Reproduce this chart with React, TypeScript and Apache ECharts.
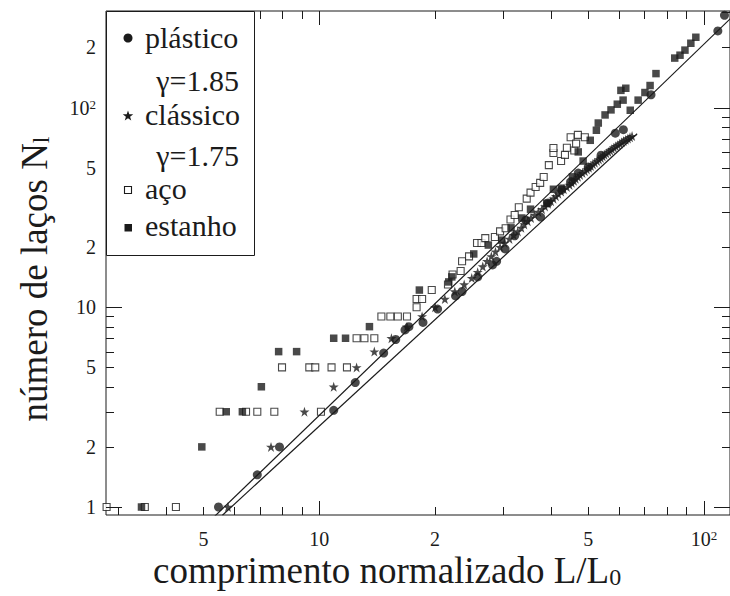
import React, { useEffect, useRef } from "react";
import * as echarts from "echarts";

// Axis ranges (log scales)
const X_MIN = 2.79;
const X_MAX = 116.8;
const Y_MIN = 0.912;
const Y_MAX = 304.6;

// Tick positions
const xTicks = [3, 4, 5, 6, 7, 8, 9, 10, 20, 30, 40, 50, 60, 70, 80, 90, 100];
const xMajorTicks = [10, 100];
const yTicks = [1, 2, 3, 4, 5, 6, 7, 8, 9, 10, 20, 30, 40, 50, 60, 70, 80, 90, 100, 200, 300];
const yMajorTicks = [1, 10, 100];

// Tick labels ("^" marks an exponent)
const xLabelValues = [5, 10, 20, 50, 100];
const xLabelTexts = ["5", "10", "2", "5", "10^2"];
const yLabelValues = [1, 2, 5, 10, 20, 50, 100, 200];
const yLabelTexts = ["1", "2", "5", "10", "2", "5", "10^2", "2"];

// Series: [L/L0, N_l]
const plastico = [
  [5.47, 1], [6.9, 1.45], [7.88, 2], [10.9, 3.05], [12.4, 4.2], [14.7, 5.9],
  [15.8, 6.9], [16.7, 7.7], [17.1, 8.0], [18.6, 8.4], [20.3, 9.8], [22.6, 11.4],
  [23.5, 12.0], [25.8, 14.2], [28.2, 16.3], [28.9, 17.0], [30.4, 19.6], [32.2, 22.8],
  [34.4, 27.3], [37.6, 28.3], [39.3, 33.3], [42.6, 38.7], [45.0, 42.5], [47.1, 47.0],
  [50.0, 50.4], [54.0, 57.8], [58.8, 74.5], [61.7, 77.5], [72.8, 116], [108.6, 242],
  [113, 290],
];

const classicoX = [
  5.79, 7.49, 9.15, 10.9, 12.5, 13.9, 15.4, 16.9, 18.5, 20.0,
  21.2, 22.5, 23.8, 24.9, 25.8, 26.6, 27.3, 28.0, 28.7, 29.5,
  30.3, 31.2, 32.0, 32.8, 33.5, 34.1, 34.8, 35.5, 36.3, 37.1,
  37.9, 38.6, 39.3, 40.0, 40.6, 41.2, 41.8, 42.5, 43.2, 44.0,
  44.7, 45.3, 45.9, 46.4, 47.0, 47.6, 48.3, 49.0, 49.6, 50.2,
  50.8, 51.4, 52.0, 52.7, 53.3, 53.9, 54.5, 55.1, 55.7, 56.4,
  57.0, 57.6, 58.3, 59.0, 59.7, 60.4, 61.1, 61.8, 62.6, 63.4,
  64.2, 65.0,
];
const classicoN = [
  1, 2, 3, 4, 5, 6, 7, 8, 9, 10,
  11, 12, 13, 14, 15, 16, 17, 18, 19, 20,
  21, 22, 23, 24, 25, 26, 27, 28, 29, 30,
  31, 32, 33, 34, 35, 36, 37, 38, 39, 40,
  41, 42, 43, 44, 45, 46, 47, 48, 49, 50,
  51, 52, 53, 54, 55, 56, 57, 58, 59, 60,
  61, 62, 63, 64, 65, 66, 67, 68, 69, 70,
  71, 72,
];

const aco = [
  [2.8, 1], [3.52, 1], [4.24, 1], [5.51, 3], [6.45, 3], [6.9, 3], [7.64, 3], [10.1, 3],
  [8.0, 5], [9.42, 5], [9.76, 5], [10.76, 5], [11.8, 5], [12.5, 7], [13.1, 7], [13.9, 7],
  [14.5, 9], [15.3, 9], [16.0, 9], [16.9, 9], [17.9, 10], [17.9, 11], [18.5, 11],
  [19.6, 12.2], [21.6, 13.0], [22.2, 14.6], [23.3, 15.2], [23.5, 17.0], [24.5, 18.0],
  [25.7, 21], [26.4, 21], [27.0, 22.2], [28.6, 22.5], [29.5, 24], [30.5, 24.9],
  [31.4, 27.5], [32.2, 29], [33.0, 31.7], [34.6, 35], [35.4, 37.5], [36.5, 40],
  [37.5, 42], [38.3, 44.9], [39.5, 51.5], [40.6, 59.2], [40.6, 62.8], [42.5, 54],
  [43.5, 58], [44.0, 63], [45.0, 71], [46.0, 61], [47.0, 73], [49.0, 71], [46.5, 66],
];

const estanho = [
  [3.45, 1], [4.95, 2], [5.73, 3], [6.31, 3], [7.07, 4], [7.84, 6], [8.73, 6],
  [10.9, 7], [11.7, 7], [13.5, 8], [18.2, 12.2], [21.7, 13.4], [22.1, 14.2],
  [25.2, 18.5], [27.5, 20.5], [29.8, 21.7], [31.5, 25], [33.6, 28], [35.4, 31],
  [39.0, 33.2], [40.6, 39], [42.6, 39.5], [45.5, 45], [47.1, 60], [48.5, 54],
  [50.6, 68.6], [52.5, 77], [53.1, 83.7], [55.3, 91.9], [57.3, 97.4], [59.5, 104],
  [60.8, 122], [62.6, 125], [61.6, 109], [64.3, 97], [67.4, 109], [70.2, 119],
  [72.4, 129], [75, 148], [83.9, 177], [86.6, 183], [89.2, 194], [92.4, 210],
  [95.2, 225],
];

// Power-law fits, end points
const fitPlastico = [[5.35, 0.9], [125, 315]]; // gamma = 1.85
const fitClassico = [[5.6, 0.91], [67, 74]]; // gamma = 1.75

const FONT = "Liberation Serif";
const INK = "#1b1b1b";
const STAR =
  "path://M50,0 L61.2,34.5 L97.6,34.5 L68.2,55.9 L79.4,90.5 L50,69.1 L20.6,90.5 L31.8,55.9 L2.4,34.5 L38.8,34.5 Z";

function richTick(t: string) {
  const parts = t.split("^");
  return parts.length > 1 ? `{b|${parts[0]}}{s|${parts[1]}}` : `{b|${t}}`;
}
const tickRich = {
  b: { fontFamily: FONT, fontSize: 20, lineHeight: 20, fill: INK },
  s: {
    fontFamily: FONT,
    fontSize: 13,
    lineHeight: 13,
    verticalAlign: "top",
    padding: [0, 0, 8, 0],
    fill: INK,
  },
};

function starPoints(cx: number, cy: number, r: number) {
  const pts: number[][] = [];
  for (let i = 0; i < 10; i++) {
    const rad = i % 2 === 0 ? r : r * 0.4;
    const a = -Math.PI / 2 + (i * Math.PI) / 5;
    pts.push([cx + rad * Math.cos(a), cy + rad * Math.sin(a)]);
  }
  return pts;
}

export default function App() {
  const ref = useRef<HTMLDivElement>(null);

  useEffect(() => {
    if (!ref.current) return;
    const chart = echarts.init(ref.current, null, { renderer: "svg" });

    const classico = classicoX.map((x, i) => [x, classicoN[i]]);

    const legendText = (text: string, x: number, y: number, align: string) => ({
      type: "text",
      z: 101,
      x,
      y,
      style: {
        text,
        fontFamily: FONT,
        fontSize: 30,
        fill: INK,
        align,
        verticalAlign: "middle",
      },
    });

    const titleRich = {
      m: { fontFamily: FONT, fontSize: 37, lineHeight: 37, fill: INK },
      sub: { fontFamily: FONT, fontSize: 24, lineHeight: 24, verticalAlign: "bottom", fill: INK },
    };

    const option = {
      animation: false,
      backgroundColor: "#ffffff",
      grid: {
        left: 106,
        top: 11,
        width: 626,
        height: 504,
        show: true,
        borderColor: INK,
        borderWidth: 1,
        backgroundColor: "transparent",
      },
      xAxis: {
        type: "log",
        logBase: 10,
        min: X_MIN,
        max: X_MAX,
        axisLine: { show: false },
        axisTick: { show: false },
        axisLabel: { show: false },
        splitLine: { show: false },
      },
      yAxis: {
        type: "log",
        logBase: 10,
        min: Y_MIN,
        max: Y_MAX,
        axisLine: { show: false },
        axisTick: { show: false },
        axisLabel: { show: false },
        splitLine: { show: false },
      },
      series: [
        {
          name: "aço",
          type: "scatter",
          data: aco,
          symbol: "rect",
          symbolSize: 7,
          itemStyle: { color: "#ffffff", borderColor: INK, borderWidth: 1.1 },
          z: 3,
        },
        {
          name: "estanho",
          type: "scatter",
          data: estanho,
          symbol: "rect",
          symbolSize: 7.5,
          itemStyle: { color: INK },
          z: 4,
        },
        {
          name: "clássico",
          type: "scatter",
          data: classico,
          symbol: STAR,
          symbolSize: 10,
          itemStyle: { color: INK },
          z: 5,
        },
        {
          name: "plástico",
          type: "scatter",
          data: plastico,
          symbol: "circle",
          symbolSize: 9,
          itemStyle: { color: INK },
          z: 6,
        },
        {
          name: "γ=1.85",
          type: "line",
          data: fitPlastico,
          showSymbol: false,
          lineStyle: { color: INK, width: 1.2 },
          z: 7,
        },
        {
          name: "γ=1.75",
          type: "line",
          data: fitClassico,
          showSymbol: false,
          lineStyle: { color: INK, width: 1.2 },
          z: 7,
        },
        // x ticks, bottom and top, pointing inwards
        {
          type: "custom",
          silent: true,
          clip: false,
          z: 8,
          data: xTicks.map((v) => [v, Y_MIN]),
          encode: { x: 0, y: 1 },
          renderItem: (_p: any, api: any) => {
            const v = api.value(0);
            const b = api.coord([v, Y_MIN]);
            const t = api.coord([v, Y_MAX]);
            const len = xMajorTicks.includes(v) ? 14 : 8;
            const x = Math.round(b[0]) + 0.5;
            return {
              type: "group",
              children: [
                { type: "line", shape: { x1: x, y1: b[1], x2: x, y2: b[1] - len }, style: { stroke: INK, lineWidth: 1 } },
                { type: "line", shape: { x1: x, y1: t[1], x2: x, y2: t[1] + len }, style: { stroke: INK, lineWidth: 1 } },
              ],
            };
          },
        },
        // y ticks, left and right, pointing inwards
        {
          type: "custom",
          silent: true,
          clip: false,
          z: 8,
          data: yTicks.filter((v) => v <= Y_MAX).map((v) => [X_MIN, v]),
          encode: { x: 0, y: 1 },
          renderItem: (_p: any, api: any) => {
            const v = api.value(1);
            const l = api.coord([X_MIN, v]);
            const r = api.coord([X_MAX, v]);
            const len = yMajorTicks.includes(v) ? 16 : 8;
            const y = Math.round(l[1]) + 0.5;
            return {
              type: "group",
              children: [
                { type: "line", shape: { x1: l[0], y1: y, x2: l[0] + len, y2: y }, style: { stroke: INK, lineWidth: 1 } },
                { type: "line", shape: { x1: r[0], y1: y, x2: r[0] - len, y2: y }, style: { stroke: INK, lineWidth: 1 } },
              ],
            };
          },
        },
        // x tick labels
        {
          type: "custom",
          silent: true,
          clip: false,
          z: 8,
          data: xLabelValues.map((v, i) => [v, Y_MIN, i]),
          encode: { x: 0, y: 1 },
          renderItem: (_p: any, api: any) => {
            const v = api.value(0);
            const i = api.value(2);
            const b = api.coord([v, Y_MIN]);
            return {
              type: "text",
              x: b[0],
              y: b[1] + 24,
              style: {
                text: richTick(xLabelTexts[i]),
                rich: tickRich,
                fontFamily: FONT,
                align: "center",
                verticalAlign: "middle",
              },
            };
          },
        },
        // y tick labels
        {
          type: "custom",
          silent: true,
          clip: false,
          z: 8,
          data: yLabelValues.map((v, i) => [X_MIN, v, i]),
          encode: { x: 0, y: 1 },
          renderItem: (_p: any, api: any) => {
            const v = api.value(1);
            const i = api.value(2);
            const l = api.coord([X_MIN, v]);
            return {
              type: "text",
              x: l[0] - 10,
              y: l[1],
              style: {
                text: richTick(yLabelTexts[i]),
                rich: tickRich,
                fontFamily: FONT,
                align: "right",
                verticalAlign: "middle",
              },
            };
          },
        },
      ],
      graphic: [
        // axis titles
        {
          type: "text",
          x: 153,
          y: 570,
          z: 50,
          style: {
            text: "{m|comprimento normalizado L/L}{sub|0}",
            fontFamily: FONT,
            align: "left",
            verticalAlign: "middle",
            rich: titleRich,
          },
        },
        {
          type: "text",
          x: 34,
          y: 279,
          rotation: Math.PI / 2,
          z: 50,
          style: {
            text: "{m|número de laços N}{sub|l}",
            fontFamily: FONT,
            align: "center",
            verticalAlign: "middle",
            rich: titleRich,
          },
        },
        // legend box
        {
          type: "rect",
          z: 100,
          shape: { x: 106.5, y: 11.5, width: 148, height: 244 },
          style: { fill: "#ffffff", stroke: INK, lineWidth: 1 },
        },
        { type: "circle", z: 101, shape: { cx: 128, cy: 38, r: 4.5 }, style: { fill: INK } },
        legendText("plástico", 145, 37, "left"),
        legendText("γ=1.85", 239, 80, "right"),
        { type: "polygon", z: 101, shape: { points: starPoints(128, 116, 5.5) }, style: { fill: INK } },
        legendText("clássico", 145, 114, "left"),
        legendText("γ=1.75", 239, 155, "right"),
        {
          type: "rect",
          z: 101,
          shape: { x: 124.5, y: 186.5, width: 7, height: 7 },
          style: { fill: "#ffffff", stroke: INK, lineWidth: 1.1 },
        },
        legendText("aço", 145, 188, "left"),
        { type: "rect", z: 101, shape: { x: 124.5, y: 224, width: 7.5, height: 7.5 }, style: { fill: INK } },
        legendText("estanho", 145, 225, "left"),
      ],
    };

    chart.setOption(option as any);
    return () => chart.dispose();
  }, []);

  return (
    <div
      ref={ref}
      style={{ position: "absolute", left: 0, top: 0, width: 730, height: 596, background: "#fff" }}
    />
  );
}
